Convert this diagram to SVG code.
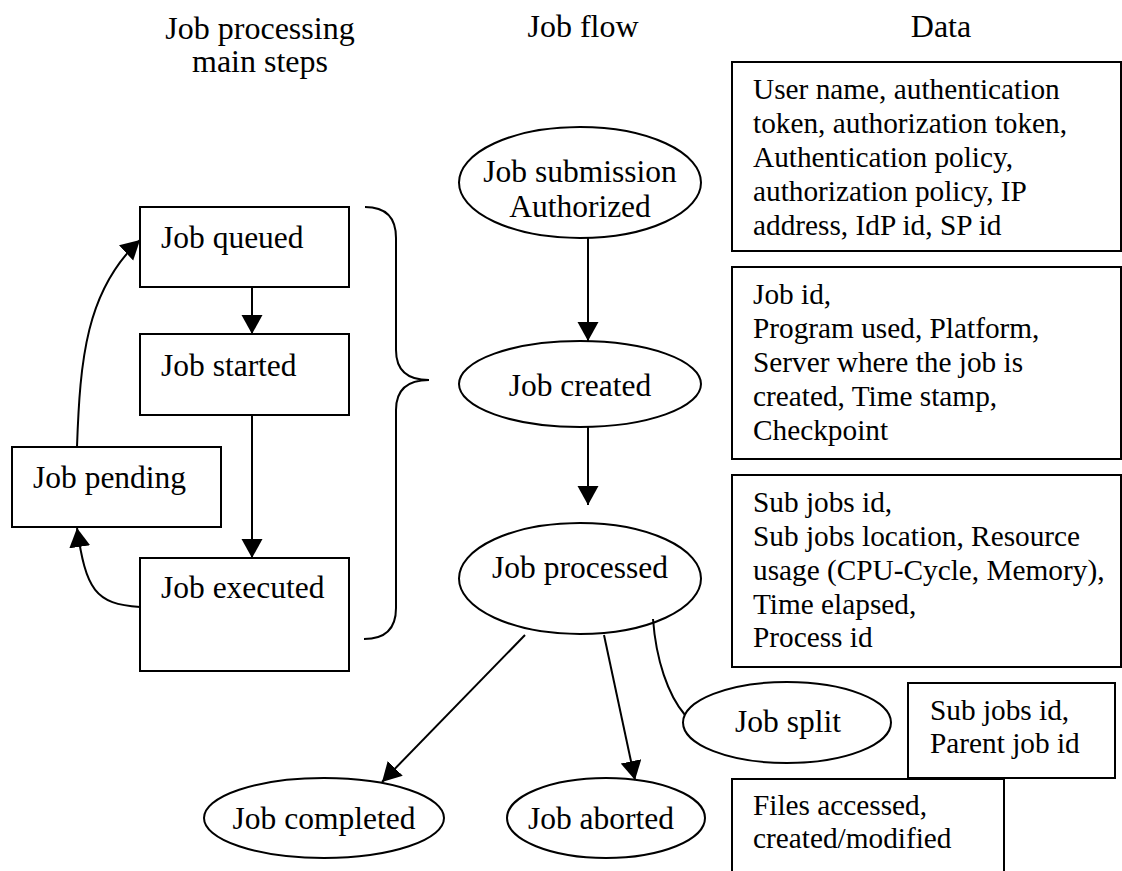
<svg xmlns="http://www.w3.org/2000/svg" width="1122" height="871" viewBox="0 0 1122 871">
  <style>
    .hdr { font-size: 32px; text-anchor: middle; }
    .lbl { font-size: 31.5px; }
    .mid { text-anchor: middle; }
    .dat { font-size: 29.3px; }
    .box { fill: #fff; stroke: #000; stroke-width: 2; }
    .edge { fill: none; stroke: #000; stroke-width: 2; }
  </style>
  <defs>
    <marker id="arrow" markerUnits="userSpaceOnUse" markerWidth="22" markerHeight="22" refX="19" refY="10.5" orient="auto">
      <path d="M0,0 L19,10.5 L0,21 z" fill="#000"/>
    </marker>
  </defs>
  <rect width="1122" height="871" fill="#fff"/>

  <g font-family="'Liberation Serif', Tinos, 'Times New Roman', 'DejaVu Serif', serif" fill="#000">

  <!-- column headers -->
  <g id="headers">
    <text class="hdr" x="260" y="39">Job processing</text>
    <text class="hdr" x="260" y="72">main steps</text>
    <text class="hdr" x="583" y="37">Job flow</text>
    <text class="hdr" x="941" y="37">Data</text>
  </g>

  <!-- main steps -->
  <g id="job-queued">
    <rect class="box" x="140" y="207" width="209" height="80"/>
    <text class="lbl" x="161" y="248">Job queued</text>
  </g>
  <g id="job-started">
    <rect class="box" x="140" y="334" width="209" height="81"/>
    <text class="lbl" x="161" y="376">Job started</text>
  </g>
  <g id="job-pending">
    <rect class="box" x="12" y="447" width="209" height="80"/>
    <text class="lbl" x="33" y="488">Job pending</text>
  </g>
  <g id="job-executed">
    <rect class="box" x="140" y="558" width="209" height="113"/>
    <text class="lbl" x="161" y="598">Job executed</text>
  </g>

  <!-- brace grouping the main steps -->
  <g id="brace">
    <path class="edge" d="M365,207 Q396,207 396,238 L396,350 Q396,380 429,380 Q396,380 396,410 L396,608 Q396,639 364,639"/>
  </g>

  <!-- job flow -->
  <g id="job-submission">
    <ellipse class="box" cx="580" cy="182.5" rx="121" ry="55.5"/>
    <text class="lbl mid" x="580" y="182">Job submission</text>
    <text class="lbl mid" x="580" y="217">Authorized</text>
  </g>
  <g id="job-created">
    <ellipse class="box" cx="580" cy="384" rx="121" ry="43"/>
    <text class="lbl mid" x="580" y="396">Job created</text>
  </g>
  <g id="job-processed">
    <ellipse class="box" cx="580" cy="578.5" rx="121" ry="55.5"/>
    <text class="lbl mid" x="580" y="578">Job processed</text>
  </g>
  <g id="job-completed">
    <ellipse class="box" cx="324" cy="818" rx="120" ry="40"/>
    <text class="lbl mid" x="324" y="829">Job completed</text>
  </g>
  <g id="job-aborted">
    <ellipse class="box" cx="606" cy="818" rx="99" ry="40"/>
    <text class="lbl mid" x="601" y="829">Job aborted</text>
  </g>
  <g id="job-split">
    <ellipse class="box" cx="787" cy="722.5" rx="104" ry="40.5"/>
    <text class="lbl mid" x="788" y="732">Job split</text>
  </g>

  <!-- data boxes -->
  <g id="data-auth">
    <rect class="box" x="732" y="62" width="389" height="189"/>
    <text class="dat" x="753" y="99">User name, authentication</text>
    <text class="dat" x="753" y="133">token, authorization token,</text>
    <text class="dat" x="753" y="167">Authentication policy,</text>
    <text class="dat" x="753" y="201">authorization policy, IP</text>
    <text class="dat" x="753" y="235">address, IdP id, SP id</text>
  </g>
  <g id="data-created">
    <rect class="box" x="732" y="267" width="389" height="192"/>
    <text class="dat" x="753" y="304">Job id,</text>
    <text class="dat" x="753" y="338">Program used, Platform,</text>
    <text class="dat" x="753" y="372">Server where the job is</text>
    <text class="dat" x="753" y="406">created, Time stamp,</text>
    <text class="dat" x="753" y="440">Checkpoint</text>
  </g>
  <g id="data-processed">
    <rect class="box" x="732" y="475" width="389" height="192"/>
    <text class="dat" x="753" y="512">Sub jobs id,</text>
    <text class="dat" x="753" y="546">Sub jobs location, Resource</text>
    <text class="dat" x="753" y="580">usage (CPU-Cycle, Memory),</text>
    <text class="dat" x="753" y="614">Time elapsed,</text>
    <text class="dat" x="753" y="647">Process id</text>
  </g>
  <g id="data-split">
    <rect class="box" x="908" y="683" width="207" height="95"/>
    <text class="dat" x="930" y="720">Sub jobs id,</text>
    <text class="dat" x="930" y="753">Parent job id</text>
  </g>
  <g id="data-files">
    <rect class="box" x="732" y="779" width="272" height="110"/>
    <text class="dat" x="753" y="815">Files accessed,</text>
    <text class="dat" x="753" y="848">created/modified</text>
  </g>

  </g>

  <!-- connectors -->
  <g id="connectors">
    <path class="edge" d="M252,287 L252,334" marker-end="url(#arrow)"/>
    <path class="edge" d="M252,415 L252,558" marker-end="url(#arrow)"/>
    <path class="edge" d="M140,607 C95,604 86,590 77,528" marker-end="url(#arrow)"/>
    <path class="edge" d="M77,447 C80,360 86,290 140,240" marker-end="url(#arrow)"/>
    <path class="edge" d="M588,238 L588,341" marker-end="url(#arrow)"/>
    <path class="edge" d="M588,427 L588,505" marker-end="url(#arrow)"/>
    <path class="edge" d="M525,635 L382,782" marker-end="url(#arrow)"/>
    <path class="edge" d="M604,635 L635,780" marker-end="url(#arrow)"/>
    <path class="edge" d="M653,619 C656,660 668,695 685,715"/>
  </g>
</svg>
